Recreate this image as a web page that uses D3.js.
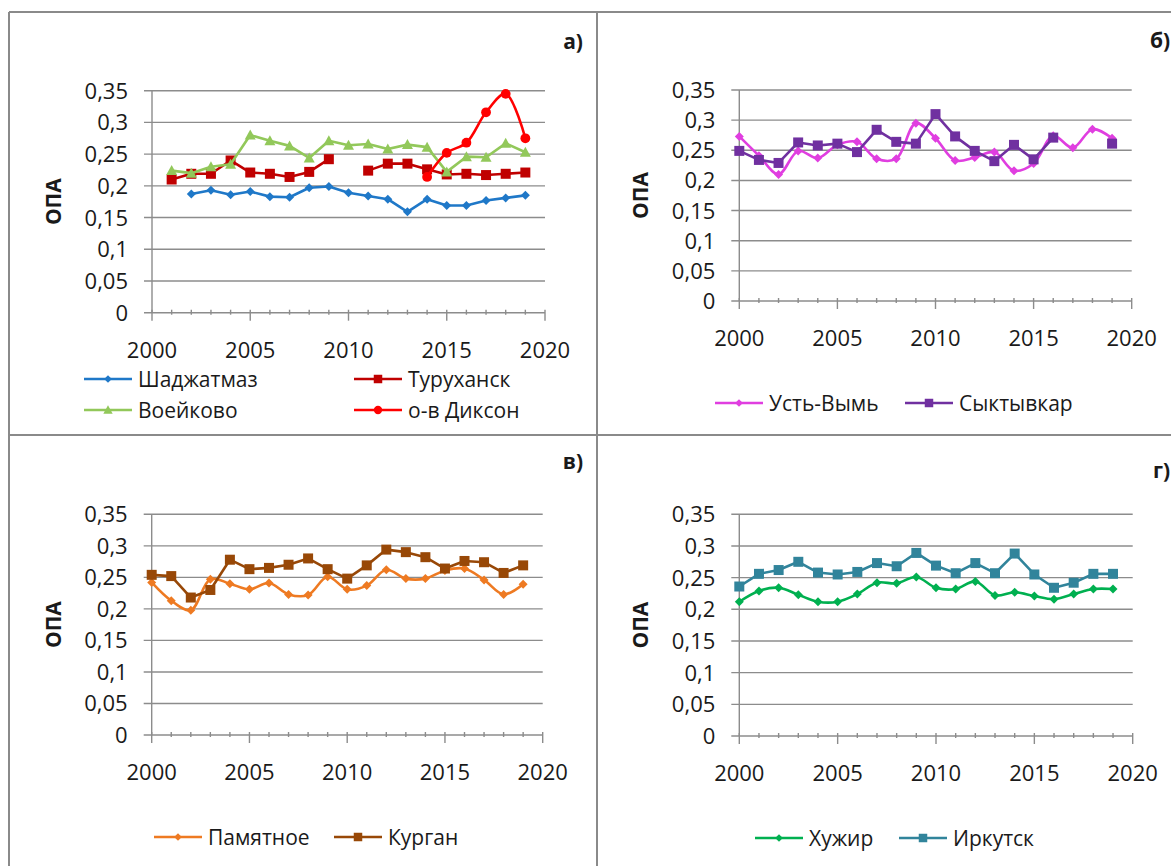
<!DOCTYPE html>
<html>
<head>
<meta charset="utf-8">
<script src="https://cdn.jsdelivr.net/npm/d3@7"></script>
<style>
  body { margin: 0; background: #fff; }
  svg { display: block; }
  text { font-family: "Open Sans", sans-serif; fill: #1a1a1a; }
</style>
</head>
<body>
<svg id="chart" width="1171" height="866"></svg>
<script>
// Data
const years = [2000, 2001, 2002, 2003, 2004, 2005, 2006, 2007, 2008, 2009,
               2010, 2011, 2012, 2013, 2014, 2015, 2016, 2017, 2018, 2019];
const yTicks = [0, 0.05, 0.1, 0.15, 0.2, 0.25, 0.3, 0.35];
const xTicks = [2000, 2005, 2010, 2015, 2020];

// panel а)
const shadzhatmaz = [null, null, 0.187, 0.193, 0.186, 0.191, 0.183, 0.182, 0.197, 0.199, 0.189, 0.184, 0.179, 0.159, 0.179, 0.169, 0.169, 0.177, 0.181, 0.185];
const turukhansk  = [null, 0.210, 0.219, 0.219, 0.240, 0.221, 0.219, 0.214, 0.222, 0.242, null, 0.224, 0.235, 0.235, 0.226, 0.218, 0.219, 0.217, 0.219, 0.221];
const voeikovo    = [null, 0.224, 0.220, 0.230, 0.234, 0.280, 0.271, 0.263, 0.244, 0.271, 0.264, 0.266, 0.258, 0.265, 0.261, 0.222, 0.246, 0.245, 0.267, 0.253];
const dikson      = [null, null, null, null, null, null, null, null, null, null, null, null, null, null, 0.214, 0.252, 0.268, 0.316, 0.345, 0.275];
// panel б)
const ustVym      = [0.273, 0.241, 0.210, 0.249, 0.237, 0.259, 0.264, 0.236, 0.236, 0.295, 0.270, 0.233, 0.238, 0.247, 0.216, 0.228, 0.274, 0.254, 0.285, 0.270];
const syktyvkar   = [0.249, 0.234, 0.229, 0.263, 0.258, 0.261, 0.247, 0.284, 0.264, 0.261, 0.310, 0.273, 0.249, 0.232, 0.259, 0.235, 0.271, null, null, 0.261];
// panel в)
const pamyatnoe   = [0.242, 0.213, 0.198, 0.247, 0.240, 0.231, 0.241, 0.223, 0.222, 0.251, 0.231, 0.237, 0.262, 0.248, 0.248, 0.261, 0.264, 0.246, 0.223, 0.239];
const kurgan      = [0.254, 0.252, 0.218, 0.230, 0.278, 0.263, 0.265, 0.270, 0.280, 0.263, 0.248, 0.269, 0.294, 0.290, 0.282, 0.264, 0.276, 0.274, 0.257, 0.269];
// panel г)
const khuzhir     = [0.212, 0.229, 0.234, 0.223, 0.212, 0.212, 0.224, 0.242, 0.241, 0.251, 0.234, 0.232, 0.244, 0.222, 0.227, 0.221, 0.216, 0.224, 0.232, 0.232];
const irkutsk     = [0.236, 0.256, 0.262, 0.275, 0.258, 0.255, 0.259, 0.273, 0.268, 0.289, 0.269, 0.257, 0.273, 0.257, 0.288, 0.255, 0.234, 0.242, 0.256, 0.256];

const svg = d3.select("#chart");

// marker shapes
function marker(type) {
  if (type === "diamond") return "M0,-4.5L4.5,0L0,4.5L-4.5,0Z";
  if (type === "square") return "M-5,-5H5V5H-5Z";
  if (type === "triangle") return "M0,-5.5L5.5,4.5H-5.5Z";
  return d3.symbol(d3.symbolCircle, 75)();
}

const panels = [
  { label: "а)", lx: 583, ly: 49, anchor: "end",
    x0: 152, x1: 545, yTop: 90.7, yBot: 312.7,
    series: [
      { name: "Шаджатмаз", values: shadzhatmaz, color: "#1f78c8", mk: "diamond", smooth: false, lgx: 84, lgy: 379 },
      { name: "Туруханск", values: turukhansk, color: "#c00000", mk: "square", smooth: false, lgx: 354, lgy: 379 },
      { name: "Воейково", values: voeikovo, color: "#92c85a", mk: "triangle", smooth: false, lgx: 84, lgy: 410 },
      { name: "о-в Диксон", values: dikson, color: "#ff0000", mk: "circle", smooth: true, lgx: 354, lgy: 410 }
    ] },
  { label: "б)", lx: 1150, ly: 48, anchor: "start",
    x0: 739.3, x1: 1131.7, yTop: 90, yBot: 301,
    series: [
      { name: "Усть-Вымь", values: ustVym, color: "#e03ee0", mk: "diamond", smooth: true, lgx: 715, lgy: 403 },
      { name: "Сыктывкар", values: syktyvkar, color: "#7030a0", mk: "square", smooth: false, lgx: 905, lgy: 403 }
    ] },
  { label: "в)", lx: 583, ly: 469, anchor: "end",
    x0: 151.7, x1: 542.7, yTop: 514.3, yBot: 735,
    series: [
      { name: "Памятное", values: pamyatnoe, color: "#ee7a22", mk: "diamond", smooth: true, lgx: 154, lgy: 837 },
      { name: "Курган", values: kurgan, color: "#984807", mk: "square", smooth: false, lgx: 334, lgy: 837 }
    ] },
  { label: "г)", lx: 1153, ly: 478, anchor: "start",
    x0: 739.3, x1: 1132.7, yTop: 514.3, yBot: 736,
    series: [
      { name: "Хужир", values: khuzhir, color: "#00b050", mk: "diamond", smooth: true, lgx: 755, lgy: 838 },
      { name: "Иркутск", values: irkutsk, color: "#31849b", mk: "square", smooth: false, lgx: 899, lgy: 838 }
    ] }
];

const gridColor = "#8c8c8c";

panels.forEach(p => {
  const g = svg.append("g");
  const x = d3.scaleLinear().domain([2000, 2020]).range([p.x0, p.x1]);
  const y = d3.scaleLinear().domain([0, 0.35]).range([p.yBot, p.yTop]);

  // gridlines (incl. y tick marks on the left)
  g.selectAll(".grid").data(yTicks).join("line")
    .attr("x1", p.x0 - 8).attr("x2", p.x1)
    .attr("y1", d => y(d)).attr("y2", d => y(d))
    .attr("stroke", gridColor).attr("stroke-width", 1.4);

  // y axis line
  g.append("line")
    .attr("x1", p.x0).attr("x2", p.x0)
    .attr("y1", y(0.35)).attr("y2", y(0))
    .attr("stroke", gridColor).attr("stroke-width", 1.4);

  // x ticks: minor every year, major every 5
  const allTicks = d3.range(2000, 2021);
  g.selectAll(".xt").data(allTicks).join("line")
    .attr("x1", d => x(d)).attr("x2", d => x(d))
    .attr("y1", y(0) - 3)
    .attr("y2", d => d % 5 === 0 ? y(0) + 8 : y(0) + 2)
    .attr("stroke", gridColor).attr("stroke-width", 1.4);

  // tick labels
  g.selectAll(".yl").data(yTicks).join("text")
    .attr("x", p.x0 - 24).attr("y", d => y(d) + 8)
    .attr("text-anchor", "end").attr("font-size", 22)
    .text(d => d === 0 ? "0" : String(d).replace(".", ","));
  g.selectAll(".xl").data(xTicks).join("text")
    .attr("x", d => x(d)).attr("y", y(0) + 45)
    .attr("text-anchor", "middle").attr("font-size", 22)
    .text(d => d);

  // axis title
  const cy = (p.yTop + p.yBot) / 2;
  const tx = p.x0 - 91;
  g.append("text")
    .attr("transform", `translate(${tx},${cy}) rotate(-90)`)
    .attr("text-anchor", "middle").attr("font-size", 21).attr("font-weight", "bold")
    .text("ОПА");

  // panel letter
  g.append("text")
    .attr("x", p.lx).attr("y", p.ly)
    .attr("text-anchor", p.anchor).attr("font-size", 21).attr("font-weight", "bold")
    .text(p.label);

  // series
  p.series.forEach(s => {
    const pts = years.map((yr, i) => ({ yr, v: s.values[i] }));
    const line = d3.line()
      .defined(d => d.v !== null)
      .x(d => x(d.yr)).y(d => y(d.v))
      .curve(s.smooth ? d3.curveCatmullRom.alpha(0.5) : d3.curveLinear);
    g.append("path")
      .attr("d", line(pts))
      .attr("fill", "none").attr("stroke", s.color)
      .attr("stroke-width", 2.6).attr("stroke-linejoin", "round");
    g.selectAll(null).data(pts.filter(d => d.v !== null)).join("path")
      .attr("transform", d => `translate(${x(d.yr)},${y(d.v)})`)
      .attr("d", marker(s.mk))
      .attr("fill", s.color);

    // legend entry
    const lg = g.append("g");
    lg.append("line")
      .attr("x1", s.lgx).attr("x2", s.lgx + 48)
      .attr("y1", s.lgy).attr("y2", s.lgy)
      .attr("stroke", s.color).attr("stroke-width", 2.6);
    lg.append("path")
      .attr("transform", `translate(${s.lgx + 24},${s.lgy}) scale(0.85)`)
      .attr("d", marker(s.mk)).attr("fill", s.color);
    lg.append("text")
      .attr("x", s.lgx + 54).attr("y", s.lgy + 8)
      .attr("font-size", 21)
      .text(s.name);
  });
});

// panel borders
const borders = [
  [9, 12, 9, 866], [9, 12, 1171, 12],
  [597, 12, 597, 866], [9, 435, 1171, 435]
];
svg.selectAll(".border").data(borders).join("line")
  .attr("x1", d => d[0]).attr("y1", d => d[1])
  .attr("x2", d => d[2]).attr("y2", d => d[3])
  .attr("stroke", "#8a8a8a").attr("stroke-width", 2);
</script>
</body>
</html>
